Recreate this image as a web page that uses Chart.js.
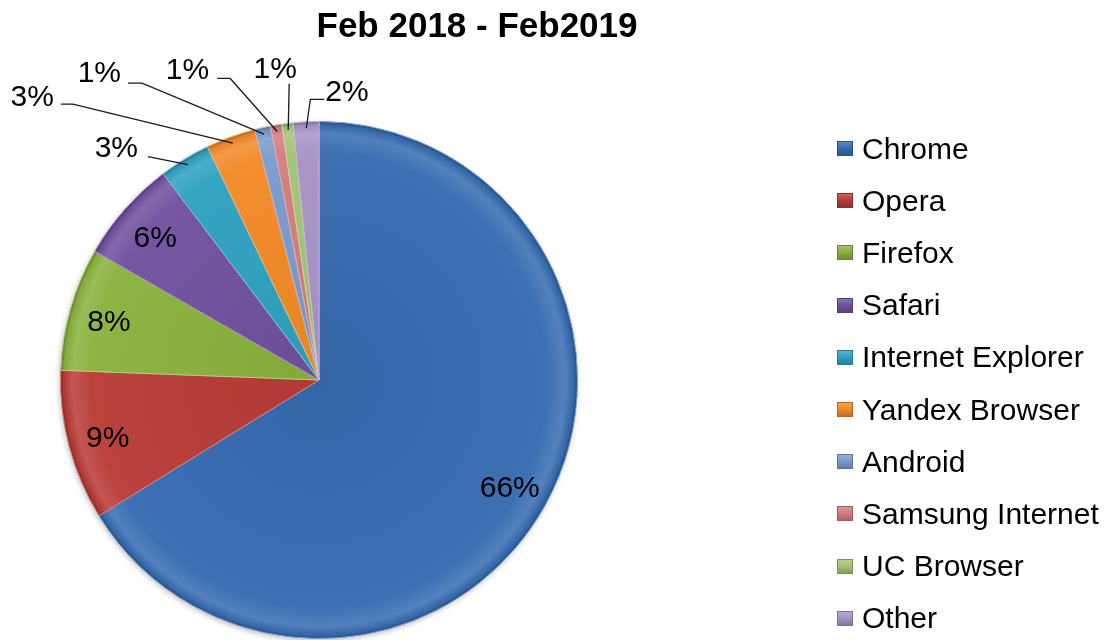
<!DOCTYPE html>
<html>
<head>
<meta charset="utf-8">
<script src="https://cdn.jsdelivr.net/npm/chart.js@4.4.1/dist/chart.umd.min.js"></script>
<style>
  html, body { margin: 0; padding: 0; background: #fff; }
  #wrap { position: relative; width: 1114px; height: 640px; overflow: hidden; font-family: "Liberation Sans", Arial, sans-serif; color: #000; }
  #pie { position: absolute; left: 0; top: 0; }
  #title { position: absolute; left: 0; top: 5px; width: 954px; text-align: center; font-weight: bold; font-size: 35px; }
  #legend { position: absolute; left: 837px; top: 0; }
  .row { position: absolute; left: 0; height: 52px; display: flex; align-items: center; white-space: nowrap; font-size: 30px; }
  .sw { width: 16px; height: 15px; margin-right: 9px; box-sizing: border-box; }
</style>
</head>
<body>
<div id="wrap">
  <canvas id="pie" width="1114" height="640"></canvas>
  <div id="title">Feb 2018 - Feb2019</div>
  <div id="legend"></div>
</div>
<script>
// ---------- data ----------
const browsers = ["Chrome", "Opera", "Firefox", "Safari", "Internet Explorer", "Yandex Browser", "Android", "Samsung Internet", "UC Browser", "Other"];
const shares = [66.2, 9.4, 7.7, 6.4, 3.2, 3.1, 1.0, 0.7, 0.7, 1.6];
const sliceColors = ["#376cb1", "#b93c37", "#8ab23d", "#71519f", "#30a2c0", "#f28a28", "#7a9bcd", "#d47e7c", "#a3c477", "#a794c6"];

// ---------- label placement (style only) ----------
// elbow: offset from the arc edge point, tail: horizontal run, text: offset from line end
const callouts = [
  null, null, null, null,
  { elbow: [-40, -8], tail: 0, text: [-10, -11], align: "right" },
  { elbow: [-160, -39], tail: -12, text: [-7, -9], align: "right" },
  { elbow: [-122, -51], tail: -14, text: [-7, -12], align: "right" },
  { elbow: [-47, -53], tail: -13, text: [-8, -10], align: "right" },
  { elbow: [1, -46], tail: 0, text: [-14, -17], align: "center" },
  { elbow: [4, -29], tail: 14, text: [1, -9], align: "left" },
];

const FONT = '"Liberation Sans", Arial, sans-serif';

function shade(hex, amt) {
  const n = parseInt(hex.slice(1), 16);
  const t = amt < 0 ? 0 : 255, p = Math.abs(amt);
  const mix = (c) => Math.round(c + (t - c) * p);
  return `rgb(${mix(n >> 16)},${mix((n >> 8) & 255)},${mix(n & 255)})`;
}

function sliceFill(ctx) {
  const base = sliceColors[ctx.dataIndex];
  const area = ctx.chart.chartArea;
  if (!area) return base;
  const cx = (area.left + area.right) / 2, cy = (area.top + area.bottom) / 2;
  const r = Math.min(area.width, area.height) / 2;
  const g = ctx.chart.ctx.createRadialGradient(cx, cy, 0, cx, cy, r);
  g.addColorStop(0, shade(base, -0.05));
  g.addColorStop(0.88, shade(base, 0.03));
  g.addColorStop(0.95, shade(base, 0.14));
  g.addColorStop(0.985, shade(base, -0.05));
  g.addColorStop(1, shade(base, -0.35));
  return g;
}

// soft shadow behind the pie
const pieShadow = {
  id: "pieShadow",
  beforeDatasetsDraw(chart) {
    const arc = chart.getDatasetMeta(0).data[0];
    if (!arc) return;
    const { x, y, outerRadius } = arc.getProps(["x", "y", "outerRadius"], true);
    const ctx = chart.ctx;
    ctx.save();
    ctx.shadowColor = "rgba(0,0,0,0.35)";
    ctx.shadowBlur = 6;
    ctx.shadowOffsetX = -1;
    ctx.shadowOffsetY = 2;
    ctx.fillStyle = "#fff";
    ctx.beginPath();
    ctx.arc(x, y, outerRadius - 1, 0, Math.PI * 2);
    ctx.fill();
    ctx.restore();
  },
};

const pctLabels = {
  id: "pctLabels",
  afterDatasetsDraw(chart) {
    const ctx = chart.ctx;
    const meta = chart.getDatasetMeta(0);
    ctx.save();
    ctx.font = `30px ${FONT}`;
    ctx.fillStyle = "#000";
    ctx.strokeStyle = "#1a1a1a";
    ctx.lineWidth = 1.3;
    meta.data.forEach((arc, i) => {
      const { x, y, startAngle, endAngle, outerRadius } = arc.getProps(["x", "y", "startAngle", "endAngle", "outerRadius"], true);
      const mid = (startAngle + endAngle) / 2;
      const text = Math.round(shares[i]) + "%";
      const c = callouts[i];
      if (!c) {
        const d = outerRadius * 0.845;
        ctx.textAlign = "center";
        ctx.textBaseline = "alphabetic";
        ctx.fillText(text, x + Math.cos(mid) * d, y + Math.sin(mid) * d + 11);
        return;
      }
      const ax = x + Math.cos(mid) * outerRadius * 0.975;
      const ay = y + Math.sin(mid) * outerRadius * 0.975;
      const ex = ax + c.elbow[0], ey = ay + c.elbow[1];
      const tx = ex + c.tail;
      ctx.beginPath();
      ctx.moveTo(ax, ay);
      ctx.lineTo(ex, ey);
      ctx.lineTo(tx, ey);
      ctx.stroke();
      ctx.textAlign = c.align;
      ctx.textBaseline = "alphabetic";
      ctx.fillText(text, tx + c.text[0], ey + c.text[1] + 11);
    });
    ctx.restore();
  },
};

new Chart(document.getElementById("pie"), {
  type: "pie",
  data: {
    labels: browsers,
    datasets: [{
      data: shares,
      backgroundColor: sliceFill,
      borderColor: sliceColors.map((c) => shade(c, 0.35)),
      borderWidth: 1,
      hoverOffset: 0,
      offset: 0,
    }],
  },
  options: {
    responsive: false,
    animation: false,
    layout: { padding: { left: 60, right: 536, top: 121, bottom: 1 } },
    plugins: {
      legend: { display: false },
      title: { display: false },
      tooltip: { enabled: false },
    },
  },
  plugins: [pieShadow, pctLabels],
});

// ---------- legend ----------
const legendEl = document.getElementById("legend");
browsers.forEach((name, i) => {
  const row = document.createElement("div");
  row.className = "row";
  row.style.top = (122.5 + i * 52.2) + "px";
  const c = sliceColors[i];
  row.innerHTML = `<span class="sw" style="background:linear-gradient(${shade(c, 0.2)}, ${c} 45%, ${shade(c, -0.2)});border:1px solid ${shade(c, -0.25)}"></span>${name}`;
  legendEl.appendChild(row);
});
</script>
</body>
</html>
